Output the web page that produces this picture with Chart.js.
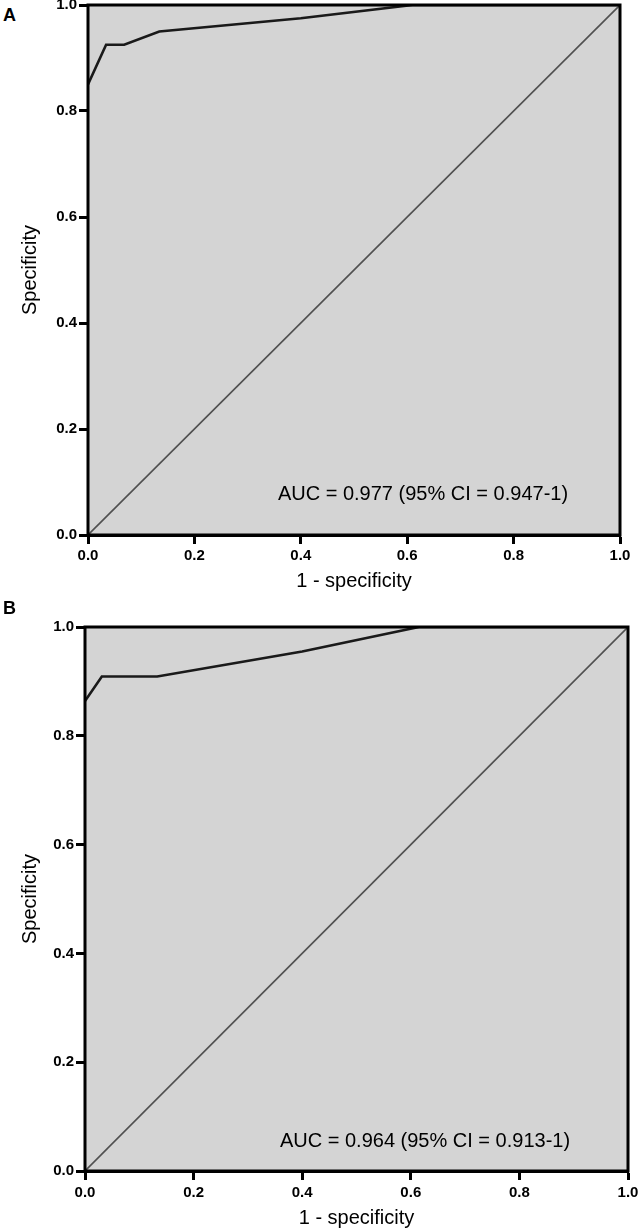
<!DOCTYPE html>
<html>
<head>
<meta charset="utf-8">
<script src="https://cdn.jsdelivr.net/npm/chart.js@4/dist/chart.umd.min.js"></script>
<style>
  body { margin: 0; background: #fff; width: 642px; height: 1230px; position: relative; overflow: hidden;
         font-family: "Liberation Sans", Arial, sans-serif; }
  canvas { position: absolute; left: 0; }
  .tag { position: absolute; left: 3px; font-weight: bold; font-size: 18px; line-height: 1; }
</style>
</head>
<body>
<div class="tag" style="top:6px">A</div>
<canvas id="rocA" width="642" height="600" style="top:0"></canvas>
<div class="tag" style="top:599px">B</div>
<canvas id="rocB" width="642" height="630" style="top:600px"></canvas>

<script>
// ROC curve, panel A
const fprA = [0, 0.034, 0.068, 0.134, 0.40, 0.61, 1.0];
const tprA = [0.85, 0.925, 0.925, 0.95, 0.975, 1.0, 1.0];
// ROC curve, panel B
const fprB = [0, 0.031, 0.133, 0.40, 0.615, 1.0];
const tprB = [0.864, 0.909, 0.909, 0.955, 1.0, 1.0];
// reference line
const refX = [0, 1];
const refY = [0, 1];
const tickValues = [0, 0.2, 0.4, 0.6, 0.8, 1.0];
const aucA = 'AUC = 0.977 (95% CI = 0.947-1)';
const aucB = 'AUC = 0.964 (95% CI = 0.913-1)';

const FONT = '"Liberation Sans", Arial, sans-serif';

// grey plot area, black frame, AUC note
const framePlugin = {
  id: 'frame',
  beforeDatasetsDraw(chart) {
    const { ctx, chartArea: a } = chart;
    ctx.save();
    ctx.fillStyle = '#d4d4d4';
    ctx.fillRect(a.left, a.top, a.width, a.height);
    ctx.restore();
  },
  afterDraw(chart, args, opts) {
    const { ctx, chartArea: a, scales } = chart;
    ctx.save();
    ctx.strokeStyle = '#000';
    ctx.lineWidth = 3;
    ctx.strokeRect(a.left, a.top, a.width, a.height);
    ctx.fillStyle = '#000';
    ctx.font = '20px ' + FONT;
    ctx.textAlign = 'left';
    ctx.textBaseline = 'alphabetic';
    ctx.fillText(opts.text, scales.x.getPixelForValue(opts.x), scales.y.getPixelForValue(opts.y));
    ctx.restore();
  }
};

function toPoints(xs, ys) {
  return xs.map((x, i) => ({ x, y: ys[i] }));
}

function makeRoc(id, xs, ys, cfg) {
  const axis = (title, titlePad) => ({
    type: 'linear',
    min: 0,
    max: 1,
    afterBuildTicks: s => { s.ticks = tickValues.map(v => ({ value: v })); },
    ticks: {
      color: '#000',
      padding: cfg.labelPad,
      font: { family: FONT, size: 15, weight: 'bold' },
      callback: v => Number(v).toFixed(1)
    },
    grid: { drawOnChartArea: false, drawTicks: true, tickLength: 9, tickWidth: 3, tickColor: '#000' },
    border: { display: true, color: '#000', width: 3 },
    title: { display: true, text: title, color: '#000', padding: titlePad,
             font: { family: FONT, size: 20 } }
  });

  const xAxis = axis('1 - specificity', { top: 0, bottom: cfg.xTitlePad });
  xAxis.afterFit = s => { s.height = cfg.xHeight; s.paddingLeft = 0; s.paddingRight = 0; };
  const yAxis = axis('Specificity', { top: 18, bottom: 0 });
  yAxis.ticks.padding = 2;
  yAxis.afterFit = s => { s.width = cfg.yWidth; s.paddingTop = 0; s.paddingBottom = 0; };

  return new Chart(document.getElementById(id), {
    type: 'scatter',
    data: {
      datasets: [
        { data: toPoints(refX, refY), showLine: true, borderColor: '#505050', borderWidth: 1.6,
          pointRadius: 0, tension: 0 },
        { data: toPoints(xs, ys), showLine: true, borderColor: '#1a1a1a', borderWidth: 2.6,
          pointRadius: 0, tension: 0 }
      ]
    },
    options: {
      responsive: false,
      animation: false,
      layout: { autoPadding: false, padding: { top: cfg.top, right: cfg.right, left: 0, bottom: 0 } },
      plugins: {
        legend: { display: false },
        tooltip: { enabled: false },
        frame: cfg.note
      },
      scales: { x: xAxis, y: yAxis }
    },
    plugins: [framePlugin]
  });
}

makeRoc('rocA', fprA, tprA, {
  top: 5, right: 22, yWidth: 88, xHeight: 65, xTitlePad: 7, labelPad: 3,
  note: { text: aucA, x: 0.357, y: 0.066 }
});
makeRoc('rocB', fprB, tprB, {
  top: 27, right: 14, yWidth: 85, xHeight: 59, xTitlePad: 0, labelPad: 4,
  note: { text: aucB, x: 0.359, y: 0.044 }
});
</script>
</body>
</html>
